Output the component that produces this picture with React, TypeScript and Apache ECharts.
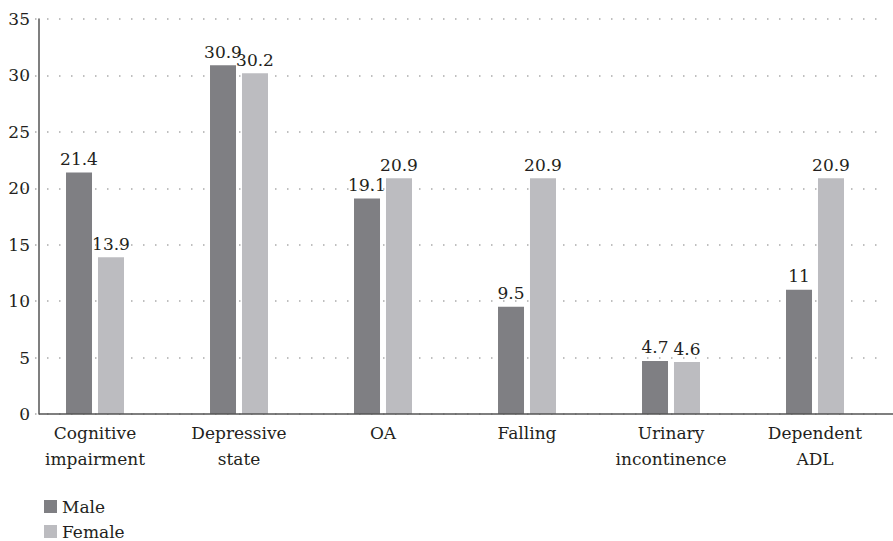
import React, { useEffect, useRef } from "react";
import * as echarts from "echarts";

const categories = [
  "Cognitive\nimpairment",
  "Depressive\nstate",
  "OA",
  "Falling",
  "Urinary\nincontinence",
  "Dependent\nADL",
];
const maleValues = [21.4, 30.9, 19.1, 9.5, 4.7, 11];
const femaleValues = [13.9, 30.2, 20.9, 20.9, 4.6, 20.9];
const seriesNames = ["Male", "Female"];

const FONT = "DejaVu Serif";

export default function App() {
  const ref = useRef<HTMLDivElement>(null);
  useEffect(() => {
    document.body.style.margin = "0";
    const chart = echarts.init(ref.current!, null, { renderer: "svg" });
    const labelStyle = {
      show: true,
      position: "top" as const,
      distance: 5,
      color: "#231f20",
      fontFamily: FONT,
      fontSize: 17,
    };
    const legendBase = {
      orient: "vertical",
      left: 39,
      itemWidth: 13,
      itemHeight: 13,
      icon: "rect",
      textStyle: { fontFamily: FONT, fontSize: 17, color: "#231f20" },
    };
    chart.setOption({
      animation: false,
      backgroundColor: "#fff",
      textStyle: { fontFamily: FONT },
      grid: { left: 23, right: 6, top: 19, bottom: 127, containLabel: false },
      legend: [
        { ...legendBase, top: 493, data: [seriesNames[0]] },
        { ...legendBase, top: 518, data: [seriesNames[1]] },
      ],
      xAxis: {
        type: "category",
        data: categories,
        axisLine: { show: false },
        axisTick: { show: false },
        axisLabel: {
          interval: 0,
          color: "#231f20",
          fontFamily: FONT,
          fontSize: 17,
          lineHeight: 26,
          margin: 6,
        },
      },
      yAxis: {
        type: "value",
        min: 0,
        max: 35,
        interval: 5,
        offset: -16,
        axisLine: { show: true, lineStyle: { color: "#555", width: 1.5 } },
        axisTick: { show: false },
        axisLabel: { color: "#231f20", fontFamily: FONT, fontSize: 17, margin: 9 },
        splitLine: {
          show: true,
          lineStyle: { color: "#aaa", width: 1.5, type: [1.5, 10.5], dashOffset: 0 },
        },
      },
      series: [
        {
          name: seriesNames[0],
          type: "bar",
          data: maleValues,
          barWidth: 26,
          barGap: "23%",
          itemStyle: { color: "#7f7f83" },
          label: labelStyle,
        },
        {
          name: seriesNames[1],
          type: "bar",
          data: femaleValues,
          barWidth: 26,
          itemStyle: { color: "#bcbcc0" },
          label: labelStyle,
        },
      ],
    });
    const y0 = chart.convertToPixel({ yAxisIndex: 0 }, 0) as number;
    chart.setOption({
      graphic: [
        {
          type: "line",
          shape: { x1: 39, y1: y0, x2: 893, y2: y0 },
          style: { stroke: "#555", lineWidth: 1.5 },
          z: 5,
        },
      ],
    });
    return () => chart.dispose();
  }, []);
  return <div ref={ref} style={{ width: 893, height: 541 }} />;
}
